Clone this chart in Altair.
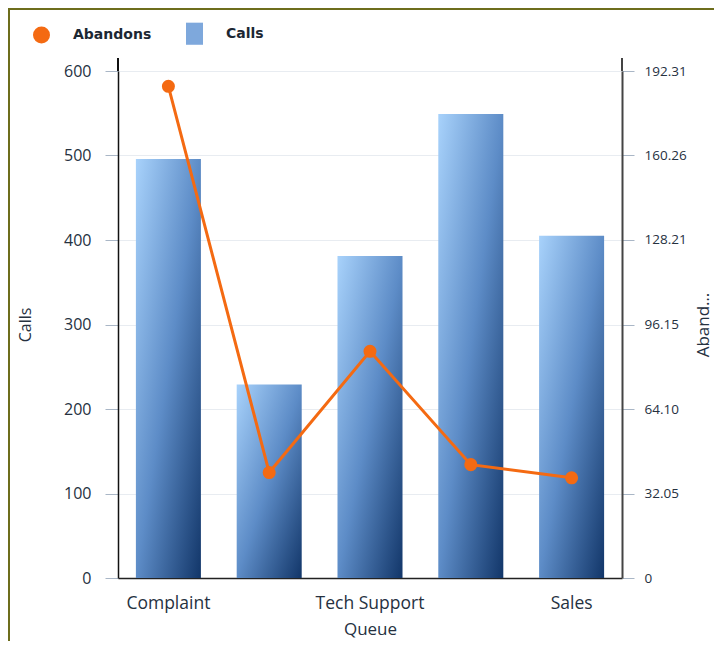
import altair as alt
import pandas as pd

queues = ["Complaint", "Billing", "Tech Support", "General Inquiry", "Sales"]
calls = [496, 229, 381, 549, 405]
abandons = [186.5, 40.0, 86.0, 43.0, 38.0]
shown_labels = ["Complaint", "Tech Support", "Sales"]
left_ticks = [0, 100, 200, 300, 400, 500, 600]
right_ticks = [0, 32.05, 64.10, 96.15, 128.21, 160.26, 192.31]
series_names = ["Abandons", "Calls"]
series_colors = ["#f46a12", "#7ea8dc"]

df = pd.DataFrame({"Queue": queues, "Calls": calls, "Abandons": abandons,
                   "series": ["Abandons"] * len(queues)})

FONT = "Open Sans"
TXT = "#26313f"

x_enc = alt.X("Queue:N", sort=queues, title="Queue",
              scale=alt.Scale(paddingInner=0.355, paddingOuter=0.1775),
              axis=alt.Axis(values=shown_labels, labelAngle=0, ticks=False,
                            domainColor="#222222", domainWidth=1.5,
                            labelFontSize=17.5, labelFont=FONT, labelColor=TXT,
                            labelPadding=16, titleFontSize=17, titleFont=FONT,
                            titleFontWeight="normal", titleColor=TXT, titlePadding=10))

grad = alt.Gradient(gradient="linear",
                    stops=[alt.GradientStop(color="#a8d2fb", offset=0),
                           alt.GradientStop(color="#5d8cc7", offset=0.5),
                           alt.GradientStop(color="#123669", offset=1)],
                    x1=0, y1=0, x2=1, y2=1)

bars = alt.Chart(df).mark_bar(color=grad).encode(
    x=x_enc,
    y=alt.Y("Calls:Q", title="Calls",
            scale=alt.Scale(domain=[0, 600], nice=False),
            axis=alt.Axis(values=left_ticks, grid=True, gridColor="#e8ecf1",
                          domainColor="#111111", domainWidth=1.5,
                          tickColor="#a9b6c6", tickSize=13,
                          labelFontSize=16, labelFont=FONT, labelColor=TXT,
                          labelPadding=14, titleFontSize=16, titleFont=FONT,
                          titleFontWeight="normal", titleColor=TXT, titlePadding=30)),
)

y_ab = alt.Y("Abandons:Q", title="Abandons",
             scale=alt.Scale(domain=[0, 192.31], nice=False),
             axis=alt.Axis(orient="right", values=right_ticks, grid=False,
                           labelExpr="datum.value == 0 ? '0' : format(datum.value, '.2f')",
                           domainColor="#444444", domainWidth=2,
                           tickColor="#a9b6c6", tickSize=12,
                           labelFontSize=13.5, labelFont=FONT, labelColor=TXT,
                           labelPadding=10, titleFontSize=17, titleFont=FONT,
                           titleFontWeight="normal", titleColor=TXT,
                           titleAngle=270, titlePadding=26, titleLimit=72))

line = alt.Chart(df).mark_line(color="#f46a12", strokeWidth=3).encode(x=x_enc, y=y_ab)
pts = alt.Chart(df).mark_point(filled=True, size=170, opacity=1).encode(
    x=x_enc, y=y_ab,
    color=alt.Color("series:N", title=None,
                    scale=alt.Scale(domain=series_names, range=series_colors),
                    legend=alt.Legend(orient="none", legendX=-85, legendY=-46,
                                      direction="horizontal", symbolSize=289,
                                      symbolStrokeWidth=0, labelFont="DejaVu Sans",
                                      labelFontWeight="bold", labelFontSize=14,
                                      labelColor="#1c2733", labelOffset=23,
                                      columnPadding=34, title=None)),
    shape=alt.Shape("series:N", title=None,
                    scale=alt.Scale(domain=series_names,
                                    range=["circle", "M-1,-1.3H1V1.3H-1Z"]),
                    legend=None),
)

frame = alt.Chart(df).mark_rule(color="#6d6d1c", strokeWidth=2).encode(
    x=alt.value(-120), x2=alt.value(620), y=alt.value(-62))
frame2 = alt.Chart(df).mark_rule(color="#6d6d1c", strokeWidth=2).encode(
    x=alt.value(-109), y=alt.value(-70), y2=alt.value(600))
ext_left = alt.Chart(df).mark_rule(color="#111111", strokeWidth=1.5).encode(
    x=alt.value(0), y=alt.value(-13), y2=alt.value(0))
ext_right = alt.Chart(df).mark_rule(color="#444444", strokeWidth=2).encode(
    x=alt.value(504), y=alt.value(-13), y2=alt.value(0))

chart = alt.layer(bars, alt.layer(line, pts), frame, frame2, ext_left, ext_right).resolve_scale(
    y="independent").properties(
    width=504, height=507,
    autosize=alt.AutoSizeParams(type="none"),
    padding={"left": 110, "top": 63, "right": 92, "bottom": 63},
).configure_view(stroke=None).configure(background="white")

chart.save("out.html", embed_options={"renderer": "svg", "actions": False})
